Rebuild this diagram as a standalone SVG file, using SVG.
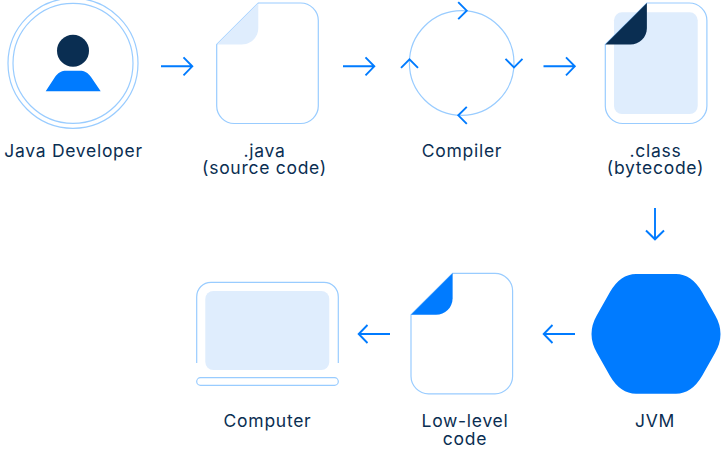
<svg xmlns="http://www.w3.org/2000/svg" width="723" height="450" viewBox="0 0 723 450">
<style>
.t{font-family:"Inter","Noto Sans",sans-serif;font-size:17.5px;letter-spacing:.72px;fill:#0a2e52;text-anchor:middle}
.o{fill:none;stroke:#99ccff;stroke-width:1.200}
.a{fill:none;stroke:#007bff;stroke-width:1.900}
.l{fill:#dfedfd}
</style>
<defs>
<path id="doc" d="M41.600 0H84C93.500 0 101.600 8 101.600 17.500V103C101.600 112.500 93.500 120.500 84 120.500H17.500C8 120.500 0 112.500 0 103V41.500Z"/>
<path id="fold" d="M41.600 0V25C41.600 34.500 34 41.500 25 41.500H0Z"/>
<path id="arr" d="M0 0H31M22.500-9L31.300 0L22.500 9"/>
<path id="chev" d="M-8.500-8.500L0 0L-8.500 8.500"/>
</defs>
<g id="connectors">
<use href="#arr" class="a" transform="translate(161 66.300)"/>
<use href="#arr" class="a" transform="translate(343 66.300)"/>
<use href="#arr" class="a" transform="translate(543.500 66.300)"/>
<use href="#arr" class="a" transform="translate(655 208) rotate(90)"/>
<use href="#arr" class="a" transform="translate(575 334) rotate(180)"/>
<use href="#arr" class="a" transform="translate(390 334) rotate(180)"/>
</g>
<g id="developer">
<circle class="o" cx="73" cy="63.300" r="65"/>
<circle class="o" cx="73" cy="63.300" r="60"/>
<circle cx="73" cy="50.700" r="16" fill="#0a2e52"/>
<path d="M45.700 91.300L55 77C58 72.500 62 70.700 66 70.700H80C84 70.700 88 72.500 91 77L100.700 91.300Z" fill="#007bff"/>
<text class="t" x="73.500" y="156.500">Java Developer</text>
</g>
<g id="java">
<use href="#doc" class="o" transform="translate(216.700 3)"/>
<use href="#fold" class="l" transform="translate(216.700 3)"/>
<text class="t" x="264.500" y="156.500">.java</text>
<text class="t" x="264.500" y="174">(source code)</text>
</g>
<g id="compiler">
<circle class="o" cx="461.700" cy="63" r="52.300"/>
<use href="#chev" class="a" transform="translate(466.700 10.700)"/>
<use href="#chev" class="a" transform="translate(514 67.300) rotate(90)"/>
<use href="#chev" class="a" transform="translate(458.300 115.300) rotate(180)"/>
<use href="#chev" class="a" transform="translate(409.500 59.300) rotate(-90)"/>
<text class="t" x="462" y="156.500">Compiler</text>
</g>
<g id="class">
<rect class="l" x="614" y="12.300" width="83.700" height="101.700" rx="8"/>
<use href="#doc" class="o" transform="translate(605.300 3)"/>
<use href="#fold" fill="#0a2e52" transform="translate(605.300 3)"/>
<text class="t" x="655.500" y="156.500">.class</text>
<text class="t" x="655.500" y="174">(bytecode)</text>
</g>
<g id="jvm">
<path d="M636 274H676Q691.600 274 702 292L715 315Q726 334 715 353L702 376Q691.600 393.700 676 393.700H636Q620.400 393.700 610 376L597 353Q586 334 597 315L610 292Q620.400 274 636 274Z" fill="#007bff"/>
<text class="t" x="655" y="427">JVM</text>
</g>
<g id="lowlevel">
<use href="#doc" class="o" transform="translate(411 273.300)"/>
<use href="#fold" fill="#007bff" transform="translate(411 273.300)"/>
<text class="t" x="465" y="427">Low-level</text>
<text class="t" x="465" y="444.500">code</text>
</g>
<g id="computer">
<rect class="l" x="205.300" y="291" width="124" height="79" rx="8"/>
<path class="o" d="M196.700 363V297C196.700 288.500 203 282.300 211 282.300H324C332 282.300 338.300 288.500 338.300 297V363"/>
<rect class="o" x="196.700" y="377.700" width="141.600" height="7.600" rx="3.800"/>
<text class="t" x="267.500" y="427">Computer</text>
</g>
</svg>
